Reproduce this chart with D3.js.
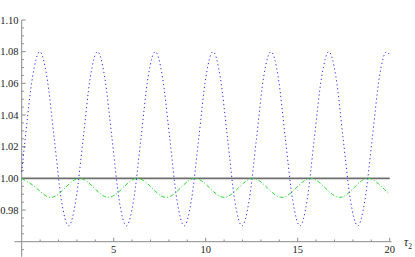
<!DOCTYPE html>
<html>
<head>
<meta charset="utf-8">
<script src="https://cdn.jsdelivr.net/npm/d3@7/dist/d3.min.js"></script>
<style>
  html, body { margin: 0; padding: 0; background: #fff; }
  svg { display: block; }
  text { font-family: 'Liberation Serif', 'DejaVu Serif', serif; }
</style>
</head>
<body>
<div id="chart"></div>
<script>
// values
const blueX = [0, 0.19, 0.59,
  0.98, 1.37, 1.77, 2.16, 2.55, 2.94, 3.34, 3.73,
  4.12, 4.51, 4.91, 5.30, 5.69, 6.08, 6.48, 6.87,
  7.26, 7.65, 8.05, 8.44, 8.83, 9.22, 9.62, 10.01,
  10.40, 10.79, 11.19, 11.58, 11.97, 12.36, 12.76, 13.15,
  13.55, 13.94, 14.33, 14.73, 15.12, 15.51, 15.90, 16.30,
  16.69, 17.08, 17.47, 17.87, 18.26, 18.65, 19.05, 19.44,
  19.83, 20];
const blueY = [1.004, 1.025, 1.064,
  1.080, 1.064, 1.025, 0.986, 0.970, 0.986, 1.025, 1.064,
  1.080, 1.064, 1.025, 0.986, 0.970, 0.986, 1.025, 1.064,
  1.080, 1.064, 1.025, 0.986, 0.970, 0.986, 1.025, 1.064,
  1.080, 1.064, 1.025, 0.986, 0.970, 0.986, 1.025, 1.064,
  1.080, 1.064, 1.025, 0.986, 0.970, 0.986, 1.025, 1.064,
  1.080, 1.064, 1.025, 0.986, 0.970, 0.986, 1.025, 1.064,
  1.080, 1.078];

const greenX = [0, 0.79, 1.57, 2.36, 3.14, 3.93, 4.71, 5.50, 6.28, 7.07, 7.85, 8.64, 9.42, 10.21,
  11.00, 11.78, 12.57, 13.35, 14.14, 14.92, 15.71, 16.49, 17.28, 18.06, 18.85, 19.63, 20];
const greenY = [1.000, 0.994, 0.988, 0.994, 1.000, 0.994, 0.988, 0.994, 1.000, 0.994, 0.988, 0.994, 1.000, 0.994,
  0.988, 0.994, 1.000, 0.994, 0.988, 0.994, 1.000, 0.994, 0.988, 0.994, 1.000, 0.994, 0.990];

const flatX = [0, 20];
const flatY = [1.00, 1.00];

const xMajor = [5, 10, 15, 20];
const xMinor = [1, 2, 3, 4, 6, 7, 8, 9, 11, 12, 13, 14, 16, 17, 18, 19];
const yMajor = [0.98, 1.00, 1.02, 1.04, 1.06, 1.08, 1.10];
const yMinor = [0.955, 0.965, 0.97, 0.975, 0.985, 0.99, 0.995, 1.005, 1.01, 1.015, 1.025, 1.03, 1.035,
  1.045, 1.05, 1.055, 1.065, 1.07, 1.075, 1.085, 1.09, 1.095];

const width = 415;
const height = 257;
const AXIS = '#8c8c8c';

const x = d3.scaleLinear().domain([0, 20]).range([21.7, 389.7]);
const y = d3.scaleLinear().domain([0.96, 1.10]).range([241.7, 20]);

const svg = d3.select('#chart')
  .append('svg')
  .attr('width', width)
  .attr('height', height);

const x0 = x(0), y0 = y(0.96);

// axes lines
svg.append('line')
  .attr('x1', x(-0.4)).attr('x2', x(20.1))
  .attr('y1', y0).attr('y2', y0)
  .attr('stroke', AXIS).attr('stroke-width', 1);
svg.append('line')
  .attr('x1', x0).attr('x2', x0)
  .attr('y1', y(1.10)).attr('y2', y(0.9505))
  .attr('stroke', AXIS).attr('stroke-width', 1);

// x ticks
svg.append('g').selectAll('line')
  .data(xMajor).join('line')
  .attr('x1', d => x(d)).attr('x2', d => x(d))
  .attr('y1', y0).attr('y2', y0 - 4)
  .attr('stroke', AXIS);
svg.append('g').selectAll('line')
  .data(xMinor).join('line')
  .attr('x1', d => x(d)).attr('x2', d => x(d))
  .attr('y1', y0).attr('y2', y0 - 2.2)
  .attr('stroke', AXIS);
svg.append('g').selectAll('text')
  .data(xMajor).join('text')
  .attr('x', d => x(d)).attr('y', y0 + 11.5)
  .attr('text-anchor', 'middle')
  .attr('font-size', 10.5)
  .attr('fill', '#222')
  .text(d => d);

// y ticks
svg.append('g').selectAll('line')
  .data(yMajor).join('line')
  .attr('x1', x0).attr('x2', x0 + 4)
  .attr('y1', d => y(d)).attr('y2', d => y(d))
  .attr('stroke', AXIS);
svg.append('g').selectAll('line')
  .data(yMinor).join('line')
  .attr('x1', x0).attr('x2', x0 + 2.2)
  .attr('y1', d => y(d)).attr('y2', d => y(d))
  .attr('stroke', AXIS);
svg.append('g').selectAll('text')
  .data(yMajor).join('text')
  .attr('x', 18.5).attr('y', d => y(d) + 3.5)
  .attr('text-anchor', 'end')
  .attr('font-size', 10.5)
  .attr('fill', '#222')
  .text(d => d.toFixed(2));

// axis label
const lab = svg.append('text')
  .attr('x', 404).attr('y', 246)
  .attr('font-size', 11.5)
  .attr('fill', '#222');
lab.append('tspan').attr('font-style', 'italic').text('τ');
lab.append('tspan').attr('font-size', 7.5).attr('dy', 2.5).text('2');

// series
const smooth = d3.line()
  .x(d => x(d[0]))
  .y(d => y(d[1]))
  .curve(d3.curveNatural);

svg.append('path')
  .datum(d3.zip(flatX, flatY))
  .attr('d', d3.line().x(d => x(d[0])).y(d => y(d[1])))
  .attr('fill', 'none')
  .attr('stroke', '#6e6e6e')
  .attr('stroke-width', 1.6);

svg.append('path')
  .datum(d3.zip(greenX, greenY))
  .attr('d', smooth)
  .attr('fill', 'none')
  .attr('stroke', '#2bd92b')
  .attr('stroke-width', 1)
  .attr('stroke-dasharray', '4,2,1,2');

svg.append('path')
  .datum(d3.zip(blueX, blueY))
  .attr('d', smooth.curve(d3.curveMonotoneX))
  .attr('fill', 'none')
  .attr('stroke', '#2a2aff')
  .attr('stroke-width', 1)
  .attr('stroke-dasharray', '1.2,2.8');
</script>
</body>
</html>
